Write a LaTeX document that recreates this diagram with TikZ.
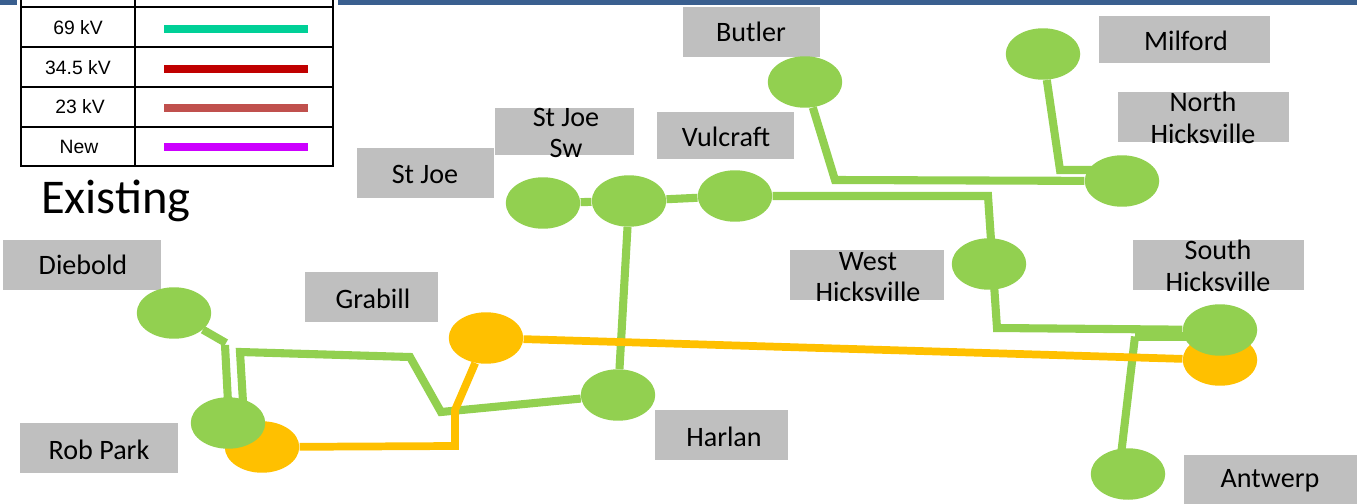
\documentclass[tikz,border=0pt]{standalone}
\usepackage{fontspec}
\setmainfont{Carlito}
\newfontfamily\legendfont{Liberation Sans}
\usetikzlibrary{shapes.geometric,backgrounds}
\definecolor{linegreen}{HTML}{92D050}
\definecolor{lineorange}{HTML}{FFC000}
\definecolor{boxgray}{HTML}{BFBFBF}
\definecolor{barblue}{HTML}{3A5F8F}
\tikzset{
  bus/.style={ellipse,fill=linegreen,inner sep=0pt,minimum width=1.49cm,minimum height=1.03cm},
  newbus/.style={bus,fill=lineorange},
  nametext/.style={font=\fontsize{16}{18}\selectfont,align=center,inner sep=0pt},
  green line/.style={draw=linegreen,line width=4.6pt},
  orange line/.style={draw=lineorange,line width=4.4pt},
  legend text/.style={font=\legendfont\fontsize{11}{13}\selectfont,inner sep=0pt},
  legend line/.style={line width=4.6pt},
}
\begin{document}
\begin{tikzpicture}[x=0.02cm,y=-0.02cm]
    \useasboundingbox (0,0) rectangle (1357,504);
    % top bar
    \fill [barblue] (0,0) rectangle (17,5);
    \fill [barblue] (338,0) rectangle (1357,5);
    % legend
    \draw [line width=1.2pt] (21,-2) rectangle (333,166);
    \draw [line width=1.2pt] (135,-2) -- (135,166);
    \draw [line width=1.2pt] (21,7) -- (333,7);
    \draw [line width=1.2pt] (21,47) -- (333,47);
    \draw [line width=1.2pt] (21,87) -- (333,87);
    \draw [line width=1.2pt] (21,127) -- (333,127);
    \node [legend text] (kv69) at (78,28) {69 kV};
    \node [legend text] (kv34) at (78,68) {34.5 kV};
    \node [legend text] (kv23) at (80,107) {23 kV};
    \node [legend text] (kvnew) at (79,147) {New};
    \coordinate (s1) at (164,29);
    \coordinate (e1) at (308,29);
    \coordinate (s2) at (164,69);
    \coordinate (e2) at (308,69);
    \coordinate (s3) at (164,108);
    \coordinate (e3) at (308,108);
    \coordinate (s4) at (164,147);
    \coordinate (e4) at (308,147);
    \draw [legend line,color={rgb,255:red,0;green,208;blue,151}] (s1) -- (e1);
    \draw [legend line,color={rgb,255:red,192;green,0;blue,0}] (s2) -- (e2);
    \draw [legend line,color={rgb,255:red,192;green,80;blue,77}] (s3) -- (e3);
    \draw [legend line,color={rgb,255:red,204;green,0;blue,255}] (s4) -- (e4);
    \node [font=\fontsize{27.6}{30}\selectfont,inner sep=0pt] (existing) at (116,201) {Existing};
    % name boxes
    \fill [boxgray] (683,7) rectangle (820,57);
    \fill [boxgray] (1099,16) rectangle (1270,63);
    \fill [boxgray] (1118,92) rectangle (1289,142);
    \fill [boxgray] (495,108) rectangle (634,155);
    \fill [boxgray] (657,112) rectangle (794,159);
    \fill [boxgray] (357,148) rectangle (494,198);
    \fill [boxgray] (790,250) rectangle (944,300);
    \fill [boxgray] (1133,240) rectangle (1304,290);
    \fill [boxgray] (3,240) rectangle (161,290);
    \fill [boxgray] (305,272) rectangle (438,322);
    \fill [boxgray] (20,423) rectangle (178,473);
    \fill [boxgray] (655,410) rectangle (788,460);
    \fill [boxgray] (1184,455) rectangle (1357,505);
    \node [nametext] (tbutler) at (751,32) {Butler};
    \node [nametext] (tmilford) at (1186,41) {Milford};
    \node [nametext] (tnorth) at (1203,118) {North\\Hicksville};
    \node [nametext] (tstjoesw) at (566,133) {St Joe\\Sw};
    \node [nametext] (tvulcraft) at (726,137) {Vulcraft};
    \node [nametext] (tstjoe) at (425,174) {St Joe};
    \node [nametext] (twest) at (868,277) {West\\Hicksville};
    \node [nametext] (tsouth) at (1218,266) {South\\Hicksville};
    \node [nametext] (tdiebold) at (83,265) {Diebold};
    \node [nametext] (tgrabill) at (373,299) {Grabill};
    \node [nametext] (trobpark) at (99,450) {Rob Park};
    \node [nametext] (tharlan) at (724,437) {Harlan};
    \node [nametext] (tantwerp) at (1270,481) {Antwerp};
    % buses
    \node [newbus] (robparknew) at (262,447) {};
    \node [newbus] (southnew) at (1220,360) {};
    \node [newbus] (grabillnew) at (486,338) {};
    \node [bus] (butler) at (805,82) {};
    \node [bus] (milford) at (1043,54) {};
    \node [bus] (north) at (1122,181) {};
    \node [bus] (stjoe) at (543,203) {};
    \node [bus] (stjoesw) at (629,201) {};
    \node [bus] (vulcraft) at (735,196) {};
    \node [bus] (west) at (989,264) {};
    \node [bus] (south) at (1220,330) {};
    \node [bus] (antwerp) at (1128,474) {};
    \node [bus] (diebold) at (174,313) {};
    \node [bus] (robpark) at (228,423) {};
    \node [bus] (harlan) at (618,395) {};
    % bends
    \coordinate (a1) at (226,343);
    \coordinate (a2) at (225,345);
    \coordinate (a3) at (228,402);
    \coordinate (b1) at (240,352);
    \coordinate (b2) at (243,402);
    \coordinate (b3) at (410,357);
    \coordinate (b4) at (441,412);
    \coordinate (c1) at (835,180);
    \coordinate (c2) at (1060,170);
    \coordinate (c3) at (988,196);
    \coordinate (c4) at (997,328);
    \coordinate (d1) at (1135,336.5);
    \coordinate (d2) at (1220,336.5);
    \coordinate (d3) at (1121,455);
    \coordinate (j1) at (455,446);
    \coordinate (j2) at (455,410);
    \coordinate (n1) at (1122,170);
    \begin{scope}[on background layer]
    \draw [green line] (diebold) -- (a1);
    \draw [green line] (a2) -- (a3);
    \draw [green line] (b2) -- (b1) -- (b3) -- (b4) -- (harlan);
    \draw [green line] (harlan) -- (stjoesw);
    \draw [green line] (stjoe) -- (stjoesw);
    \draw [green line] (stjoesw) -- (vulcraft);
    \draw [green line] (vulcraft) -- (c3) -- (c4) -- (south);
    \draw [green line] (butler) -- (c1) -- (north);
    \draw [green line] (milford) -- (c2) -- (n1);
    \draw [green line] (d1) -- (d2);
    \draw [green line] (d1) -- (d3);
    \draw [orange line] (robparknew) -- (j1) -- (j2) -- (grabillnew);
    \draw [orange line] (grabillnew) -- (southnew);
    \end{scope}
\end{tikzpicture}
\end{document}
